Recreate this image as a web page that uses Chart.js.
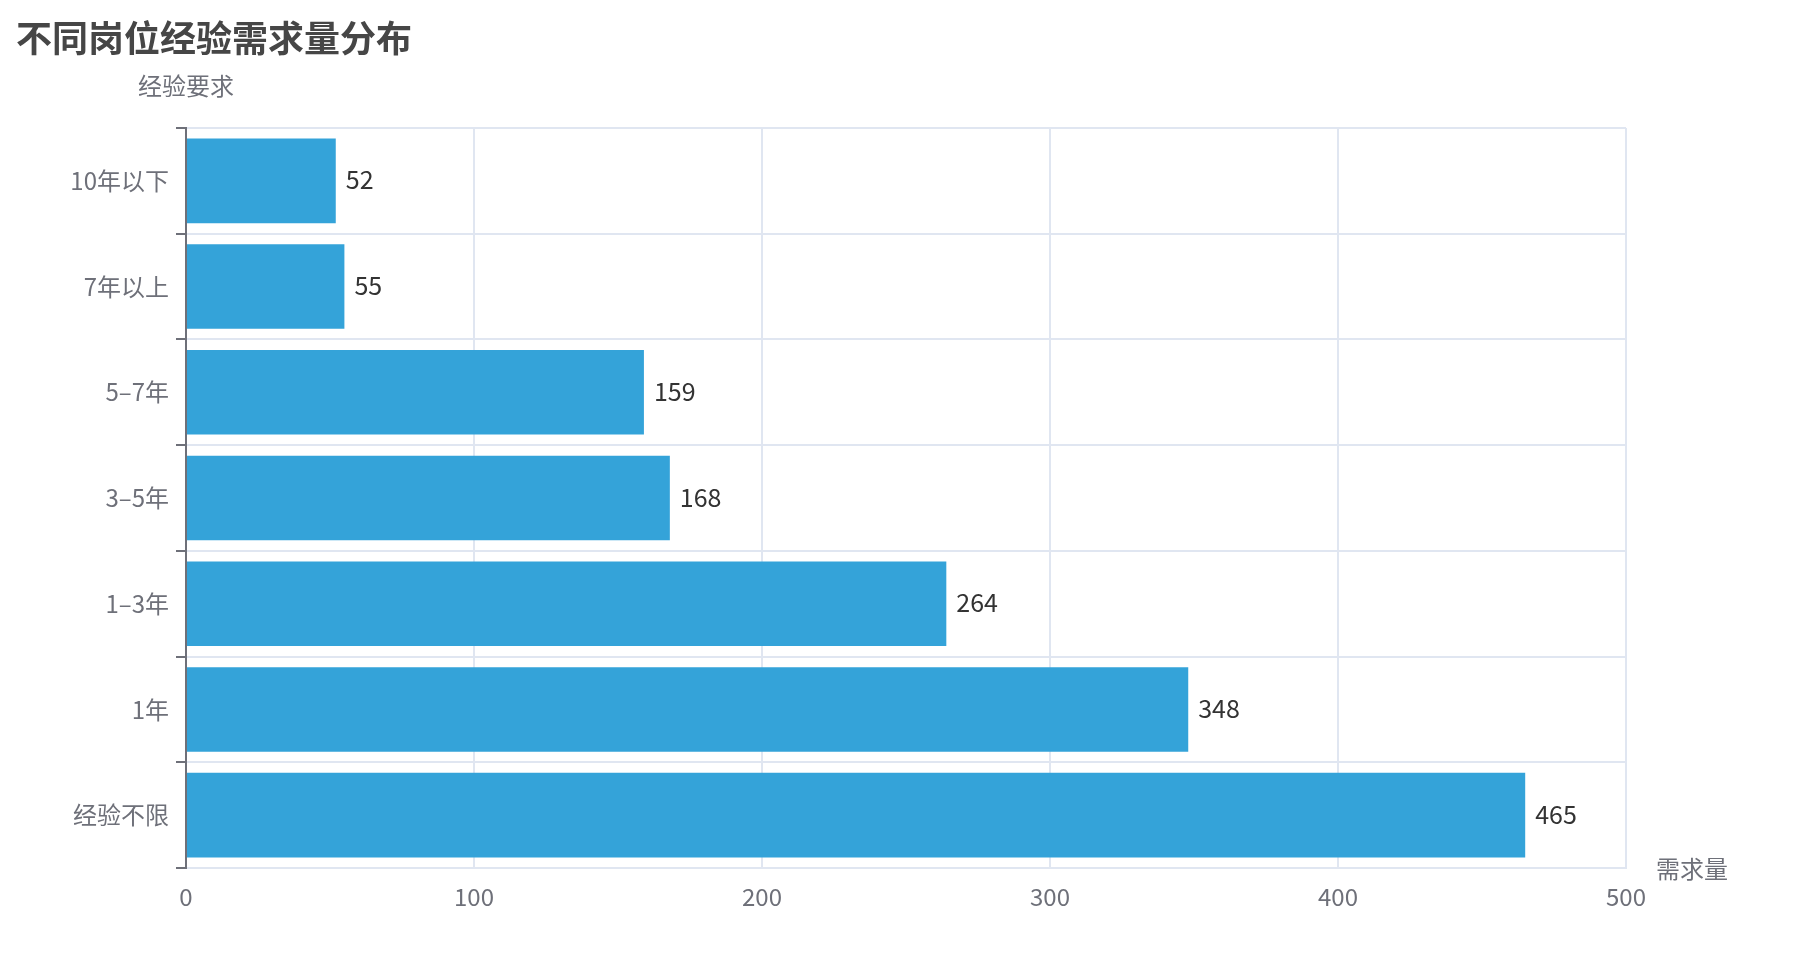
<!DOCTYPE html>
<html>
<head>
<meta charset="utf-8">
<script src="https://cdn.jsdelivr.net/npm/chart.js@4/dist/chart.umd.min.js"></script>
<style>
  html, body { margin: 0; padding: 0; background: #fff; }
  #wrap { width: 1798px; height: 968px; }
</style>
</head>
<body>
<div id="wrap"><canvas id="expChart" width="1798" height="968"></canvas></div>
<script>
const title = '不同岗位经验需求量分布';
const yName = '经验要求';
const xName = '需求量';
const categories = ['10年以下', '7年以上', '5–7年', '3–5年', '1–3年', '1年', '经验不限'];
const counts = [52, 55, 159, 168, 264, 348, 465];
const xTicks = [0, 100, 200, 300, 400, 500];

const FONT = "'Noto Sans CJK SC', 'Noto Sans', sans-serif";
const AXIS_COLOR = '#6E7079';
const GRID_COLOR = '#E0E6F1';

// title, axis names and bar value labels
const textPlugin = {
  id: 'textPlugin',
  afterDatasetsDraw(chart) {
    const ctx = chart.ctx;
    const area = chart.chartArea;
    ctx.save();

    ctx.font = 'bold 36px ' + FONT;
    ctx.fillStyle = '#464646';
    ctx.textAlign = 'left';
    ctx.textBaseline = 'middle';
    ctx.fillText(title, 16, 38);

    ctx.font = '24px ' + FONT;
    ctx.fillStyle = AXIS_COLOR;
    ctx.textAlign = 'center';
    ctx.fillText(yName, area.left, 86);
    ctx.textAlign = 'left';
    ctx.fillText(xName, area.right + 30, area.bottom + 1);

    ctx.font = '25px ' + FONT;
    ctx.fillStyle = '#333';
    const meta = chart.getDatasetMeta(0);
    meta.data.forEach((bar, i) => {
      ctx.fillText(String(counts[i]), bar.x + 10, bar.y - 1);
    });
    ctx.restore();
  }
};

const ctx = document.getElementById('expChart').getContext('2d');
new Chart(ctx, {
  type: 'bar',
  data: {
    labels: categories,
    datasets: [{
      data: counts,
      backgroundColor: '#34A3D9',
      borderWidth: 0,
      categoryPercentage: 0.8,
      barPercentage: 1,
    }],
  },
  options: {
    indexAxis: 'y',
    responsive: false,
    animation: false,
    layout: { padding: { left: 0, top: 128, right: 172, bottom: 0 } },
    plugins: {
      legend: { display: false },
      tooltip: { enabled: false },
    },
    scales: {
      x: {
        min: 0,
        max: 500,
        afterBuildTicks: scale => { scale.ticks = xTicks.map(v => ({ value: v })); },
        afterFit: scale => { scale.height = 100; },
        grid: {
          color: c => (c.tick && c.tick.value === 0 ? 'rgba(0,0,0,0)' : GRID_COLOR),
          lineWidth: 2,
          drawTicks: false,
        },
        border: { color: GRID_COLOR, width: 2 },
        ticks: {
          color: AXIS_COLOR,
          font: { family: FONT, size: 24 },
          padding: 14,
        },
      },
      y: {
        afterFit: scale => { scale.width = 186; },
        grid: {
          offset: true,
          color: GRID_COLOR,
          lineWidth: 2,
          tickColor: AXIS_COLOR,
          tickLength: 10,
        },
        border: { color: AXIS_COLOR, width: 2, z: 1 },
        ticks: {
          color: AXIS_COLOR,
          font: { family: FONT, size: 24 },
          padding: 7,
        },
      },
    },
  },
  plugins: [textPlugin],
});
</script>
</body>
</html>
